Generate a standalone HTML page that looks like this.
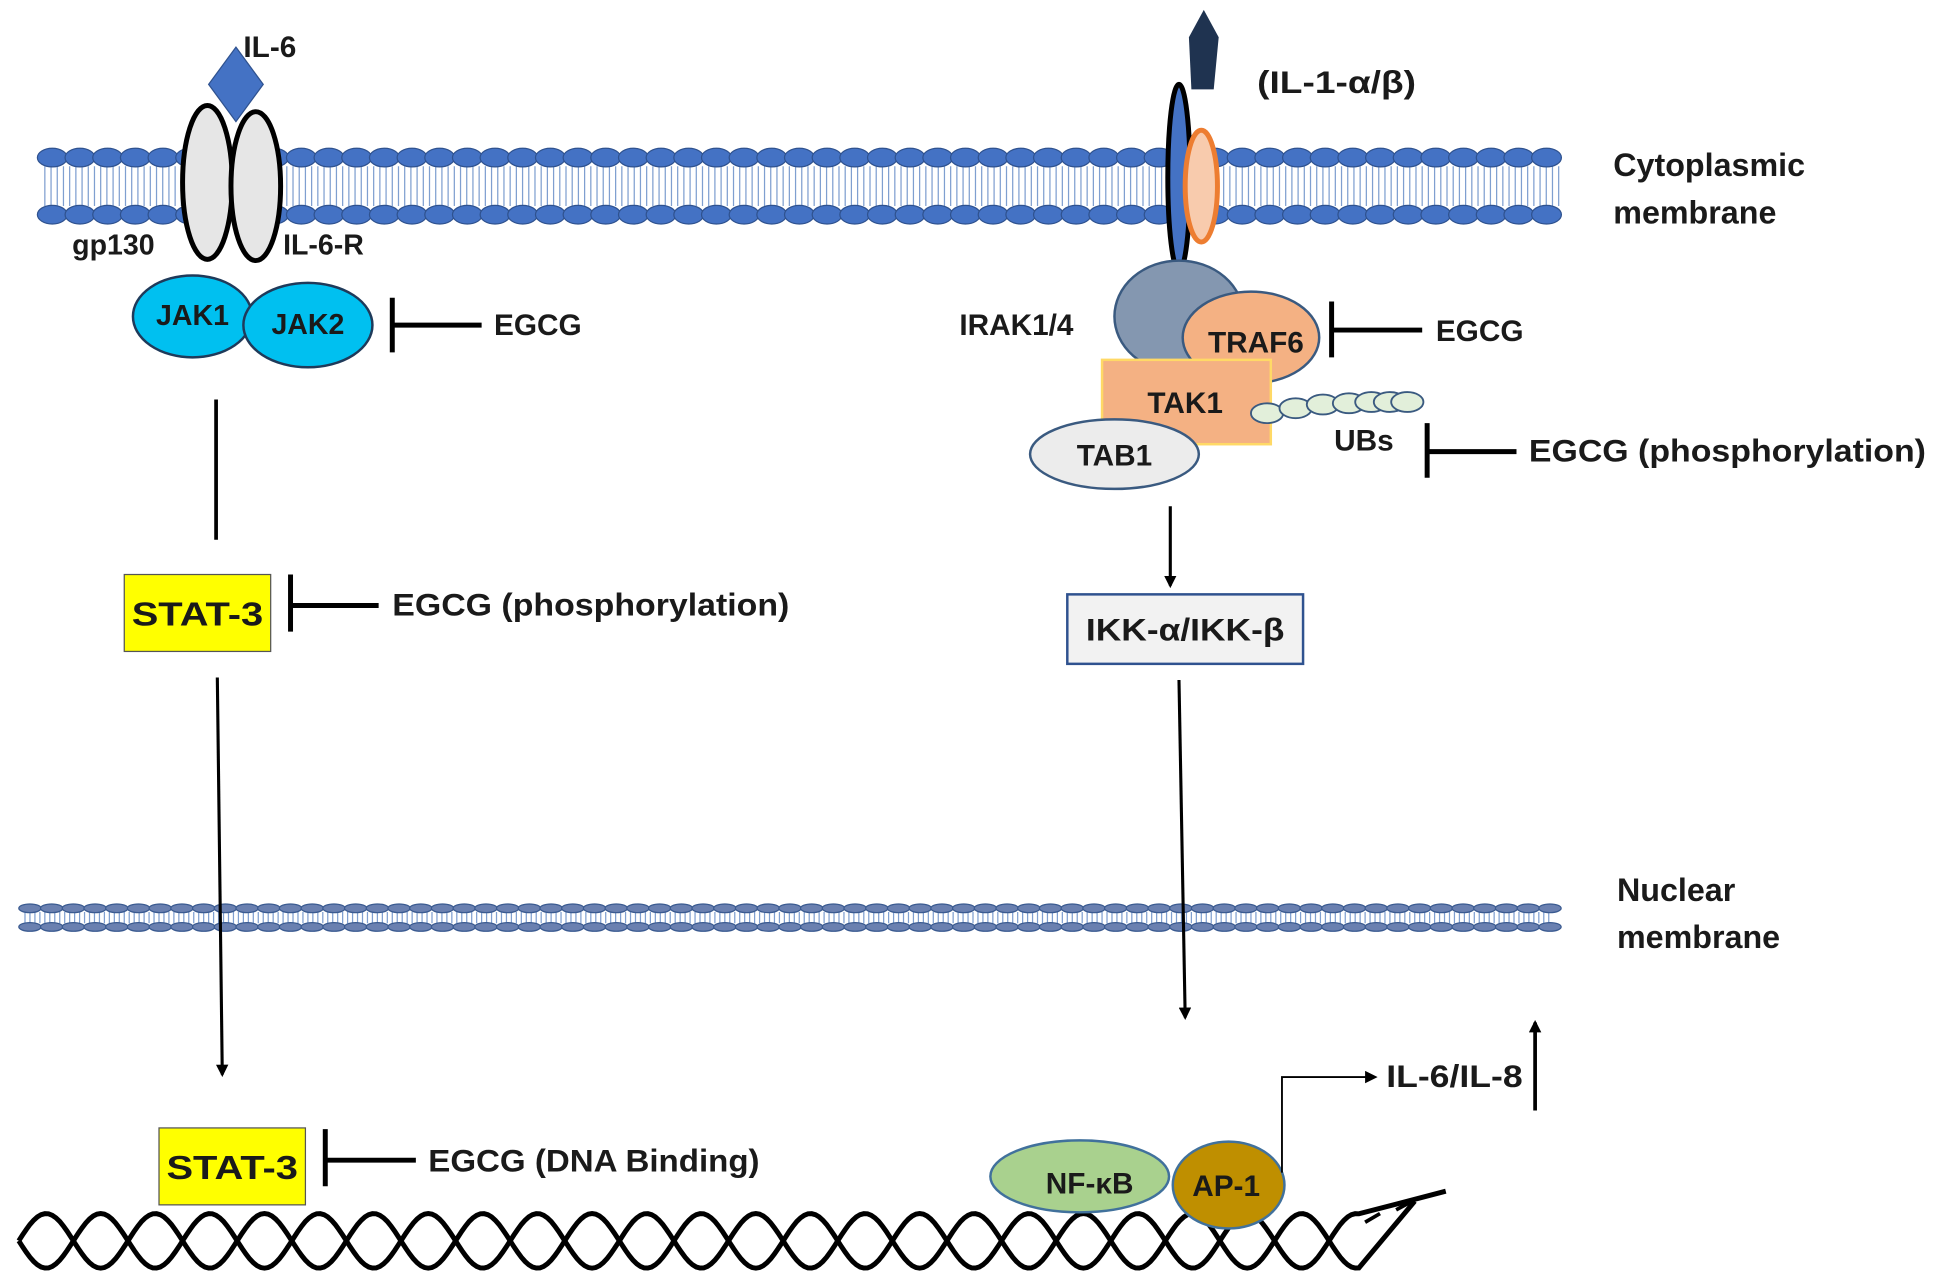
<!DOCTYPE html>
<html><head><meta charset="utf-8"><style>
html,body{margin:0;padding:0;background:#fff;}
svg{display:block;}
text{font-family:"Liberation Sans Narrow","Liberation Sans",sans-serif;font-weight:bold;fill:#1a1a1a;}
</style></head><body>
<svg id="s" width="1946" height="1288" viewBox="0 0 1568 1038" xmlns="http://www.w3.org/2000/svg">
<defs>
<marker id="ah" markerWidth="10" markerHeight="10" refX="8" refY="5" orient="auto" markerUnits="userSpaceOnUse"><path d="M0,0 L10,5 L0,10 z" fill="#000"/></marker>
</defs>
<g id="mem"></g>
<g id="nmem"></g>
<g id="dna" fill="none" stroke="#000" stroke-width="4"></g>

<polygon points="190,38 212,68 190,98 168,68" fill="#4472c4" stroke="#2f528f"/>
<text x="196" y="46" font-size="24">IL-6</text>
<ellipse cx="167" cy="147" rx="20" ry="62" fill="#e6e6e6" stroke="#000" stroke-width="4"/>
<ellipse cx="206" cy="150" rx="20" ry="60" fill="#e6e6e6" stroke="#000" stroke-width="4"/>
<text x="58" y="205" font-size="23">gp130</text>
<text x="228" y="205" font-size="23">IL-6-R</text>
<ellipse cx="155" cy="255" rx="48" ry="33" fill="#00c0f0" stroke="#1f3a5a" stroke-width="2"/>
<ellipse cx="248" cy="262" rx="52" ry="34" fill="#00c0f0" stroke="#1f3a5a" stroke-width="2"/>
<text x="155" y="262" font-size="23" text-anchor="middle">JAK1</text>
<text x="248" y="269" font-size="23" text-anchor="middle">JAK2</text>
<path d="M316,240 V284 M316,262 H388" stroke="#000" stroke-width="4"/>
<text x="398" y="270" font-size="24">EGCG</text>
<path d="M174,322 V435" stroke="#000" stroke-width="3"/>
<rect x="100" y="463" width="118" height="62" fill="#ffff00" stroke="#555" stroke-width="1"/>
<text x="159" y="504" font-size="27" text-anchor="middle" textLength="106" lengthAdjust="spacingAndGlyphs" fill="#000">STAT-3</text>
<path d="M234,463 V509 M234,488 H305" stroke="#000" stroke-width="4"/>
<text x="316" y="496" font-size="25" textLength="320" lengthAdjust="spacingAndGlyphs">EGCG (phosphorylation)</text>
<path d="M175,546 L179,866" stroke="#000" stroke-width="2.5" marker-end="url(#ah)"/>
<rect x="128" y="909" width="118" height="62" fill="#ffff00" stroke="#555" stroke-width="1"/>
<text x="187" y="950" font-size="27" text-anchor="middle" textLength="106" lengthAdjust="spacingAndGlyphs" fill="#000">STAT-3</text>
<path d="M262,910 V956 M262,935 H335" stroke="#000" stroke-width="4"/>
<text x="345" y="944" font-size="25" textLength="267" lengthAdjust="spacingAndGlyphs">EGCG (DNA Binding)</text>

<polygon points="970,8 982,30 978,72 960,72 958,30" fill="#1f3350"/>
<text x="1013" y="75" font-size="25" textLength="128" lengthAdjust="spacingAndGlyphs">(IL-1-α/β)</text>
<ellipse cx="950" cy="143" rx="9" ry="75" fill="#4472c4" stroke="#000" stroke-width="4"/>
<ellipse cx="968" cy="150" rx="13" ry="45" fill="#f8cbad" stroke="#ed7d31" stroke-width="4"/>
<text x="1300" y="142" font-size="26">Cytoplasmic</text>
<text x="1300" y="180" font-size="26">membrane</text>
<ellipse cx="950" cy="255" rx="52" ry="45" fill="#8497b0" stroke="#3a5a80" stroke-width="2"/>
<ellipse cx="1008" cy="272" rx="55" ry="37" fill="#f4b183" stroke="#3a5a80" stroke-width="2"/>
<text x="773" y="270" font-size="24">IRAK1/4</text>
<text x="1012" y="284" font-size="24" text-anchor="middle">TRAF6</text>
<rect x="888" y="290" width="136" height="68" fill="#f4b183" stroke="#ffd966" stroke-width="2"/>
<text x="955" y="333" font-size="24" text-anchor="middle">TAK1</text>
<ellipse cx="898" cy="366" rx="68" ry="28" fill="#ececec" stroke="#3a5a80" stroke-width="2"/>
<text x="898" y="375" font-size="24" text-anchor="middle">TAB1</text>
<g fill="#e2efda" stroke="#3a5a80" stroke-width="1.5">
<ellipse cx="1021" cy="333" rx="13" ry="8"/><ellipse cx="1044" cy="329" rx="13" ry="8"/><ellipse cx="1066" cy="326" rx="13" ry="8"/><ellipse cx="1087" cy="325" rx="13" ry="8"/><ellipse cx="1105" cy="324" rx="13" ry="8"/><ellipse cx="1120" cy="324" rx="13" ry="8"/><ellipse cx="1134" cy="324" rx="13" ry="8"/>
</g>
<text x="1075" y="363" font-size="24">UBs</text>
<path d="M1073,243 V288 M1073,266 H1146" stroke="#000" stroke-width="4"/>
<text x="1157" y="275" font-size="24">EGCG</text>
<path d="M1150,341 V385 M1150,364 H1222" stroke="#000" stroke-width="4"/>
<text x="1232" y="372" font-size="25" textLength="320" lengthAdjust="spacingAndGlyphs">EGCG (phosphorylation)</text>
<path d="M943,408 V472" stroke="#000" stroke-width="2.5" marker-end="url(#ah)"/>
<rect x="860" y="479" width="190" height="56" fill="#f2f2f2" stroke="#2f528f" stroke-width="2"/>
<text x="955" y="516" font-size="25" text-anchor="middle" textLength="160" lengthAdjust="spacingAndGlyphs">IKK-α/IKK-β</text>
<path d="M950,548 L955,820" stroke="#000" stroke-width="2.5" marker-end="url(#ah)"/>
<text x="1303" y="726" font-size="26">Nuclear</text>
<text x="1303" y="764" font-size="26">membrane</text>
<ellipse cx="870" cy="948" rx="72" ry="29" fill="#a9d18e" stroke="#41719c" stroke-width="2"/>
<ellipse cx="990" cy="955" rx="45" ry="35" fill="#bf8f00" stroke="#41719c" stroke-width="2"/>
<text x="878" y="962" font-size="24" text-anchor="middle">NF-κB</text>
<text x="988" y="964" font-size="24" text-anchor="middle">AP-1</text>
<path d="M1033,945 V868 H1108" fill="none" stroke="#000" stroke-width="1.5" marker-end="url(#ah)"/>
<text x="1117" y="876" font-size="25" textLength="110" lengthAdjust="spacingAndGlyphs">IL-6/IL-8</text>
<path d="M1237,895 V824" stroke="#000" stroke-width="3" marker-end="url(#ah)"/>
</svg>
<script>
var NS="http://www.w3.org/2000/svg";
function el(p,t,a){var e=document.createElementNS(NS,t);for(var k in a)e.setAttribute(k,a[k]);p.appendChild(e);return e;}
var m=document.getElementById('mem');
var d="";for(var x=36;x<1258;x+=5){d+="M"+x+",134 V166 ";}
el(m,'path',{d:d,stroke:'#7f9fd0','stroke-width':1});
for(var x=42;x<1252;x+=22.3){el(m,'ellipse',{cx:x,cy:127,rx:12,ry:7.5,fill:'#4472c4',stroke:'#2f528f','stroke-width':1});el(m,'ellipse',{cx:x,cy:173,rx:12,ry:7.5,fill:'#4472c4',stroke:'#2f528f','stroke-width':1});}
var n=document.getElementById('nmem');
d="";for(var x=20;x<1252;x+=4){d+="M"+x+",735 V744 ";}
el(n,'path',{d:d,stroke:'#7f9fd0','stroke-width':1});
for(var x=24;x<1250;x+=17.5){el(n,'ellipse',{cx:x,cy:732,rx:9,ry:3.5,fill:'#6a80b0',stroke:'#3a5a90','stroke-width':1});el(n,'ellipse',{cx:x,cy:747,rx:9,ry:3.5,fill:'#6a80b0',stroke:'#3a5a90','stroke-width':1});}
var g=document.getElementById('dna');
function wave(ph,end){var s="";for(var x=15;x<=1095;x+=3){var y=1000+22*Math.sin((x-15)/88*2*Math.PI+ph);s+=(x==15?"M":"L")+x+","+y.toFixed(1)+" ";}return s+end;}
el(g,'path',{d:wave(0," L1140,968")});el(g,'path',{d:wave(Math.PI," L1165,960")});
el(g,'path',{d:"M1100,985 L1112,978 M1125,975 L1138,968",'stroke-width':3});
</script>
</body></html>
